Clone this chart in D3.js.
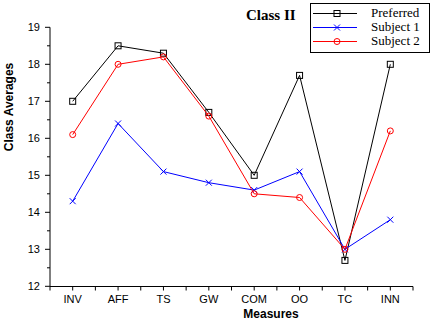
<!DOCTYPE html>
<html>
<head>
<meta charset="utf-8">
<script src="https://cdn.jsdelivr.net/npm/d3@7"></script>
<style>
  body { margin: 0; background: #fff; }
  svg { display: block; }
</style>
</head>
<body>
<svg id="chart"></svg>
<script>
const width = 432, height = 323;
const measures = ['INV', 'AFF', 'TS', 'GW', 'COM', 'OO', 'TC', 'INN'];
const preferred = [17.0, 18.5, 18.3, 16.7, 15.0, 17.7, 12.7, 18.0];
const subject1 = [14.3, 16.4, 15.1, 14.8, 14.6, 15.1, 13.0, 13.8];
const subject2 = [16.1, 18.0, 18.2, 16.6, 14.5, 14.4, 13.0, 16.2];
const yTicks = [12, 13, 14, 15, 16, 17, 18, 19];

const series = [
  { name: 'Preferred', values: preferred, color: '#000', marker: 'square' },
  { name: 'Subject 1', values: subject1, color: '#0000ff', marker: 'cross' },
  { name: 'Subject 2', values: subject2, color: '#ff0000', marker: 'circle' }
];

const svg = d3.select('#chart').attr('width', width).attr('height', height);
const x = d3.scaleBand().domain(measures).range([50, 413]);
const y = d3.scaleLinear().domain([12, 19]).range([286.3, 27.3]);
const cx = d => x(d) + x.bandwidth() / 2;

// y axis
const yAxis = svg.append('g').attr('transform', 'translate(50,0)');
yAxis.append('line').attr('y1', y(19)).attr('y2', y(12)).attr('stroke', '#000');
yAxis.selectAll('.major').data(yTicks).enter().append('line')
  .attr('x1', -5).attr('x2', 0).attr('y1', d => y(d)).attr('y2', d => y(d)).attr('stroke', '#000');
yAxis.selectAll('.minor').data(d3.range(12.5, 19, 1)).enter().append('line')
  .attr('x1', -3).attr('x2', 0).attr('y1', d => y(d)).attr('y2', d => y(d)).attr('stroke', '#000');
yAxis.selectAll('text').data(yTicks).enter().append('text')
  .attr('x', -10).attr('y', d => y(d) + 4).attr('text-anchor', 'end')
  .attr('font-family', 'Liberation Sans, Arial').attr('font-size', 11).text(d => d);

// x axis
const xAxis = svg.append('g').attr('transform', 'translate(0,286.5)');
xAxis.append('line').attr('x1', 50).attr('x2', 413).attr('stroke', '#000');
xAxis.selectAll('.major').data(measures).enter().append('line')
  .attr('x1', d => cx(d)).attr('x2', d => cx(d)).attr('y1', 0).attr('y2', 4).attr('stroke', '#000');
xAxis.selectAll('.minor').data(measures.concat(['end'])).enter().append('line')
  .attr('x1', (d, i) => 50 + i * x.bandwidth()).attr('x2', (d, i) => 50 + i * x.bandwidth())
  .attr('y1', 0).attr('y2', 4).attr('stroke', '#000');
xAxis.selectAll('text').data(measures).enter().append('text')
  .attr('x', d => cx(d)).attr('y', 16.5).attr('text-anchor', 'middle')
  .attr('font-family', 'Liberation Sans, Arial').attr('font-size', 11).text(d => d);

// axis titles
svg.append('text').attr('x', 271).attr('y', 318).attr('text-anchor', 'middle')
  .attr('font-family', 'Liberation Sans, Arial').attr('font-weight', 'bold').attr('font-size', 12)
  .text('Measures');
svg.append('text').attr('transform', 'translate(13,107) rotate(-90)').attr('text-anchor', 'middle')
  .attr('font-family', 'Liberation Sans, Arial').attr('font-weight', 'bold').attr('font-size', 12)
  .text('Class Averages');

// title
svg.append('text').attr('x', 246).attr('y', 20)
  .attr('font-family', 'Liberation Serif, Times New Roman').attr('font-weight', 'bold').attr('font-size', 15)
  .text('Class II');

function drawMarker(g, type, px, py, color) {
  if (type === 'square') {
    g.append('rect').attr('x', px - 3).attr('y', py - 3).attr('width', 6).attr('height', 6)
      .attr('fill', 'none').attr('stroke', color);
  } else if (type === 'circle') {
    g.append('circle').attr('cx', px).attr('cy', py).attr('r', 3)
      .attr('fill', 'none').attr('stroke', color);
  } else {
    g.append('path').attr('d', `M${px - 3},${py - 3}L${px + 3},${py + 3}M${px - 3},${py + 3}L${px + 3},${py - 3}`)
      .attr('stroke', color);
  }
}

const line = d3.line().x((d, i) => cx(measures[i])).y(d => y(d));
series.forEach(s => {
  const g = svg.append('g');
  g.append('path').datum(s.values).attr('d', line).attr('fill', 'none').attr('stroke', s.color);
  s.values.forEach((v, i) => drawMarker(g, s.marker, cx(measures[i]), y(v), s.color));
});

// legend
const legend = svg.append('g');
legend.append('rect').attr('x', 310.5).attr('y', 3.5).attr('width', 119).attr('height', 49)
  .attr('fill', '#fff').attr('stroke', '#000');
series.forEach((s, i) => {
  const ly = 13.5 + i * 14;
  legend.append('line').attr('x1', 313).attr('x2', 357).attr('y1', ly).attr('y2', ly).attr('stroke', s.color);
  drawMarker(legend, s.marker, 337, ly, s.color);
  legend.append('text').attr('x', 371).attr('y', ly + 3.5)
    .attr('font-family', 'Liberation Serif, Times New Roman').attr('font-size', 13).text(s.name);
});
</script>
</body>
</html>
